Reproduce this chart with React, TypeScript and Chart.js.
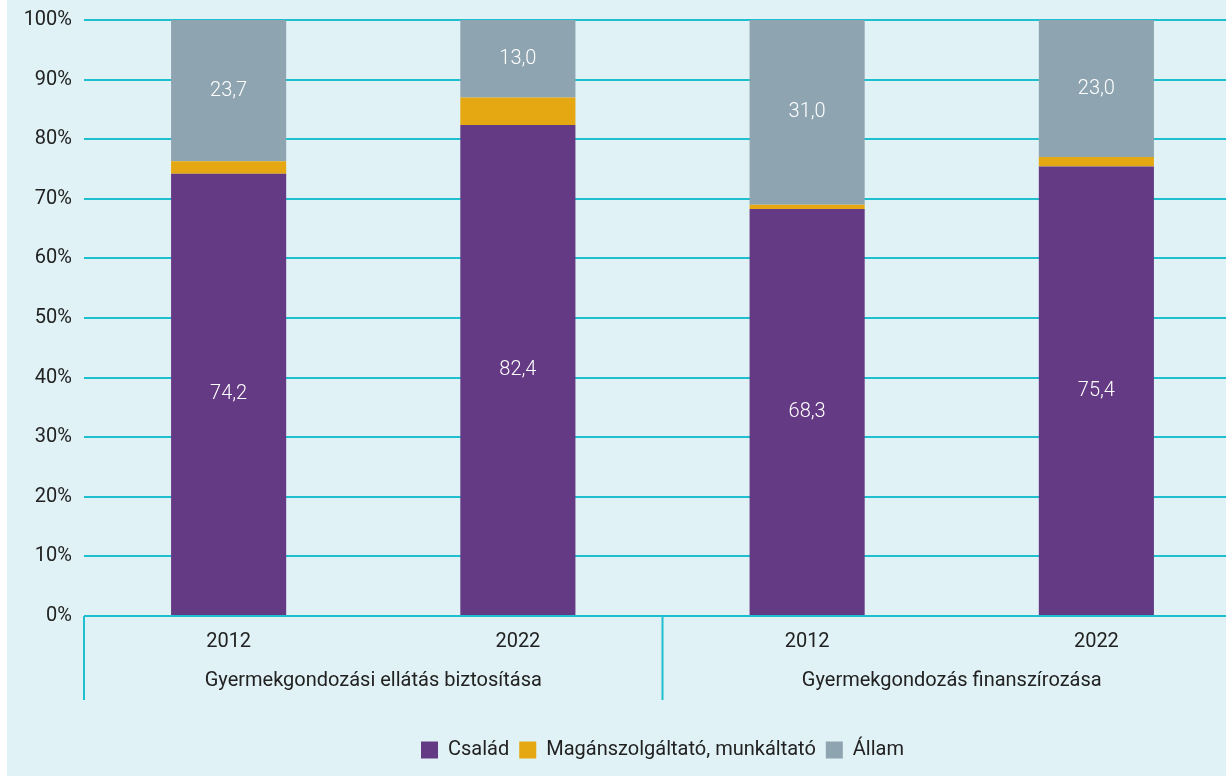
import React, { useEffect, useRef } from "react";
import { Chart, registerables } from "chart.js";

Chart.register(...registerables);

const yearLabels = ["2012", "2022", "2012", "2022"];
const groupLabels = ["Gyermekgondozási ellátás biztosítása", "Gyermekgondozás finanszírozása"];
const csalad = [74.2, 82.4, 68.3, 75.4];
const magan = [2.1, 4.6, 0.7, 1.6];
const allam = [23.7, 13.0, 31.0, 23.0];
const seriesNames = ["Család", "Magánszolgáltató, munkáltató", "Állam"];
const seriesColors = ["#653a84", "#e5a812", "#8ea4b0"];

const FONT = "Roboto, 'Noto Sans', sans-serif";
const GRID = "#1ebfcf";
const TEXT = "#222222";

const groupPlugin = {
  id: "groupPlugin",
  afterDraw(chart: any) {
    const { ctx, chartArea } = chart;
    const xs = chart.scales.x;
    const n = yearLabels.length;
    const w = (chartArea.right - chartArea.left) / n;
    ctx.save();
    ctx.strokeStyle = GRID;
    ctx.lineWidth = 2;
    const bottom = chartArea.bottom + 84;
    [0, 2, 4].forEach((i) => {
      const x = chartArea.left + i * w;
      ctx.beginPath();
      ctx.moveTo(x, chartArea.bottom);
      ctx.lineTo(x, bottom);
      ctx.stroke();
    });
    ctx.fillStyle = TEXT;
    ctx.font = `20px ${FONT}`;
    ctx.textAlign = "center";
    ctx.textBaseline = "middle";
    groupLabels.forEach((g, gi) => {
      const x = (xs.getPixelForValue(gi * 2) + xs.getPixelForValue(gi * 2 + 1)) / 2;
      ctx.fillText(g, x, chartArea.bottom + 65);
    });
    // data labels
    ctx.fillStyle = "#ffffff";
    ctx.font = `300 20px ${FONT}`;
    [0, 2].forEach((di) => {
      const meta = chart.getDatasetMeta(di);
      const data = chart.data.datasets[di].data as number[];
      meta.data.forEach((bar: any, i: number) => {
        const cy = (bar.y + bar.base) / 2;
        ctx.fillText(data[i].toFixed(1).replace(".", ","), bar.x, cy);
      });
    });
    ctx.restore();
  },
};

export default function App() {
  const ref = useRef<HTMLCanvasElement>(null);
  useEffect(() => {
    if (!ref.current) return;
    const values = [csalad, magan, allam];
    const chart = new Chart(ref.current, {
      type: "bar",
      data: {
        labels: yearLabels,
        datasets: seriesNames.map((name, i) => ({
          label: name,
          data: values[i],
          backgroundColor: seriesColors[i],
          borderWidth: 0,
          categoryPercentage: 1,
          barPercentage: 0.398,
        })),
      },
      options: {
        animation: false,
        responsive: false,
        maintainAspectRatio: false,
        layout: { padding: { top: 20, bottom: 6, left: 0, right: 0 } },
        plugins: {
          tooltip: { enabled: false },
          legend: {
            position: "bottom",
            fullSize: false,
            labels: {
              boxWidth: 17,
              boxHeight: 17,
              color: TEXT,
              font: { family: FONT, size: 20 },
              padding: 10,
            },
          },
        },
        scales: {
          x: {
            stacked: true,
            grid: { display: false, drawTicks: false },
            border: { display: false },
            ticks: { color: TEXT, font: { family: FONT, size: 20 }, padding: 14 },
            afterFit(scale: any) {
              scale.height = 114;
            },
          },
          y: {
            stacked: true,
            min: 0,
            max: 100,
            grid: { color: GRID, lineWidth: 2, drawTicks: false },
            border: { display: false },
            ticks: {
              stepSize: 10,
              color: TEXT,
              font: { family: FONT, size: 20 },
              padding: 12,
              callback: (v: any) => `${v}%`,
            },
            afterFit(scale: any) {
              scale.width = 77;
              scale.paddingTop = 0;
              scale.paddingBottom = 0;
            },
          },
        },
      },
      plugins: [groupPlugin],
    });
    return () => chart.destroy();
  }, []);
  return (
    <div
      style={{
        position: "absolute",
        left: 7,
        top: 0,
        width: 1219,
        height: 776,
        overflow: "hidden",
        background: "#e0f2f5",
      }}
    >
      <canvas ref={ref} width={1234} height={776} style={{ display: "block" }} />
    </div>
  );
}
